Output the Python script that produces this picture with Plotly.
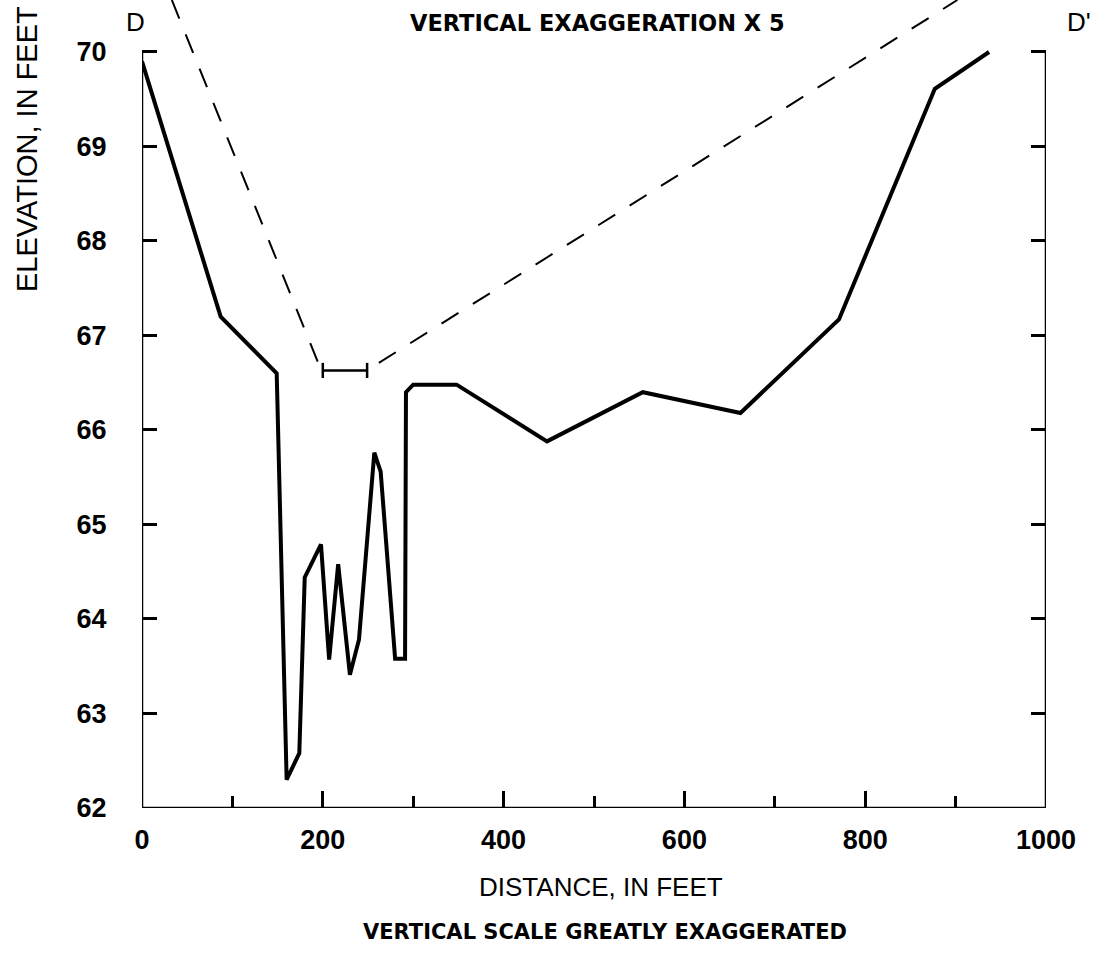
import plotly.graph_objects as go

# ---- data ----
distance_ft = [0, 87, 149, 160, 174, 180, 198, 207, 217, 230, 240, 251, 257, 264,
               280, 291, 292, 300, 348, 448, 554, 662, 771, 877, 937]
elevation_ft = [69.9, 67.2, 66.6, 62.3, 62.58, 64.44, 64.79, 63.57, 64.58, 63.41,
                63.78, 65.05, 65.76, 65.56, 63.58, 63.58, 66.40, 66.48, 66.48,
                65.88, 66.40, 66.18, 67.17, 69.61, 70.0]

dash_left_x = [33, 197]
dash_left_y = [70.55, 66.66]
dash_right_x = [262, 902]
dash_right_y = [66.71, 70.55]

bracket_x = [200, 249]
bracket_y = 66.63

x_tick_vals = [0, 200, 400, 600, 800, 1000]
x_tick_text = ["0", "200", "400", "600", "800", "1000"]
x_minor_vals = [100, 300, 500, 700, 900]
y_tick_vals = [62, 63, 64, 65, 66, 67, 68, 69, 70]
y_tick_text = ["62", "63", "64", "65", "66", "67", "68", "69", "70"]

# ---- layout geometry ----
W, H = 1115, 957
L, R_PX, T, B_PX = 142, 1046, 0, 808
XMIN, XMAX = 0, 1000
YMIN, YMAX = 62, 70.55


def px(xp, yp):
    return (xp - L) / (R_PX - L), (B_PX - yp) / (B_PX - T)


fig = go.Figure()

fig.add_trace(go.Scatter(x=distance_ft, y=elevation_ft, mode="lines",
                         line=dict(color="black", width=4), hoverinfo="skip"))
fig.add_trace(go.Scatter(x=dash_left_x, y=dash_left_y, mode="lines",
                         line=dict(color="black", width=2, dash="20px,17px"), hoverinfo="skip"))
fig.add_trace(go.Scatter(x=dash_right_x, y=dash_right_y, mode="lines",
                         line=dict(color="black", width=2, dash="20px,17px"), hoverinfo="skip"))
cap = 0.08
fig.add_trace(go.Scatter(
    x=[bracket_x[0], bracket_x[1], None, bracket_x[0], bracket_x[0], None, bracket_x[1], bracket_x[1]],
    y=[bracket_y, bracket_y, None, bracket_y - cap, bracket_y + cap, None, bracket_y - cap, bracket_y + cap],
    mode="lines", line=dict(color="black", width=2.5), hoverinfo="skip"))

# axis frame (left, bottom, right) drawn to 70 only
frame = dict(color="black", width=2.5)
fig.add_shape(type="line", x0=0, x1=0, y0=62, y1=70, xref="x", yref="y", line=frame)
fig.add_shape(type="line", x0=0, x1=1000, y0=62, y1=62, xref="x", yref="y", line=frame)
fig.add_shape(type="line", x0=1000, x1=1000, y0=62, y1=70, xref="x", yref="y", line=frame)

tickfont = dict(family="Liberation Sans", size=27, color="black", weight="bold")

fig.update_layout(
    width=W, height=H,
    margin=dict(l=L, r=W - R_PX, t=T, b=H - B_PX, pad=0),
    paper_bgcolor="white", plot_bgcolor="white",
    showlegend=False,
    xaxis=dict(range=[XMIN, XMAX], showgrid=False, zeroline=False, showline=False,
               tickmode="array", tickvals=x_tick_vals, ticktext=x_tick_text,
               ticks="inside", ticklen=17, tickwidth=2.5, tickcolor="black",
               tickfont=tickfont, ticklabelstandoff=13,
               minor=dict(tickmode="array", tickvals=x_minor_vals, ticks="inside",
                          ticklen=12, tickwidth=2.5, tickcolor="black", showgrid=False)),
    yaxis=dict(range=[YMIN, YMAX], showgrid=False, zeroline=False,
               showline=True, linecolor="rgba(0,0,0,0)", mirror="ticks",
               tickmode="array", tickvals=y_tick_vals, ticktext=y_tick_text,
               ticks="inside", ticklen=15, tickwidth=2.5, tickcolor="black",
               tickfont=tickfont, ticklabelstandoff=29),
)

ann = []
x, y = px(601, 887)
ann.append(dict(text="DISTANCE, IN FEET", x=x, y=y, xref="paper", yref="paper",
                showarrow=False, xanchor="center", yanchor="middle",
                font=dict(family="Liberation Sans", size=26, color="black")))
x, y = px(605, 932)
ann.append(dict(text="VERTICAL SCALE GREATLY EXAGGERATED", x=x, y=y, xref="paper", yref="paper",
                showarrow=False, xanchor="center", yanchor="middle",
                font=dict(family="DejaVu Sans", size=21, color="black", weight="bold")))
x, y = px(597, 23)
ann.append(dict(text="VERTICAL EXAGGERATION X 5", x=x, y=y, xref="paper", yref="paper",
                showarrow=False, xanchor="center", yanchor="middle",
                font=dict(family="DejaVu Sans", size=22.5, color="black", weight="bold")))
x, y = px(27, 149)
ann.append(dict(text="ELEVATION, IN FEET", x=x, y=y, xref="paper", yref="paper", textangle=-90,
                showarrow=False, xanchor="center", yanchor="middle",
                font=dict(family="Liberation Sans", size=29, color="black")))
x, y = px(135, 22)
ann.append(dict(text="D", x=x, y=y, xref="paper", yref="paper",
                showarrow=False, xanchor="center", yanchor="middle",
                font=dict(family="Liberation Sans", size=26, color="black")))
x, y = px(1079, 22)
ann.append(dict(text="D'", x=x, y=y, xref="paper", yref="paper",
                showarrow=False, xanchor="center", yanchor="middle",
                font=dict(family="Liberation Sans", size=26, color="black")))
fig.update_layout(annotations=ann)

fig.write_html("out.html")
